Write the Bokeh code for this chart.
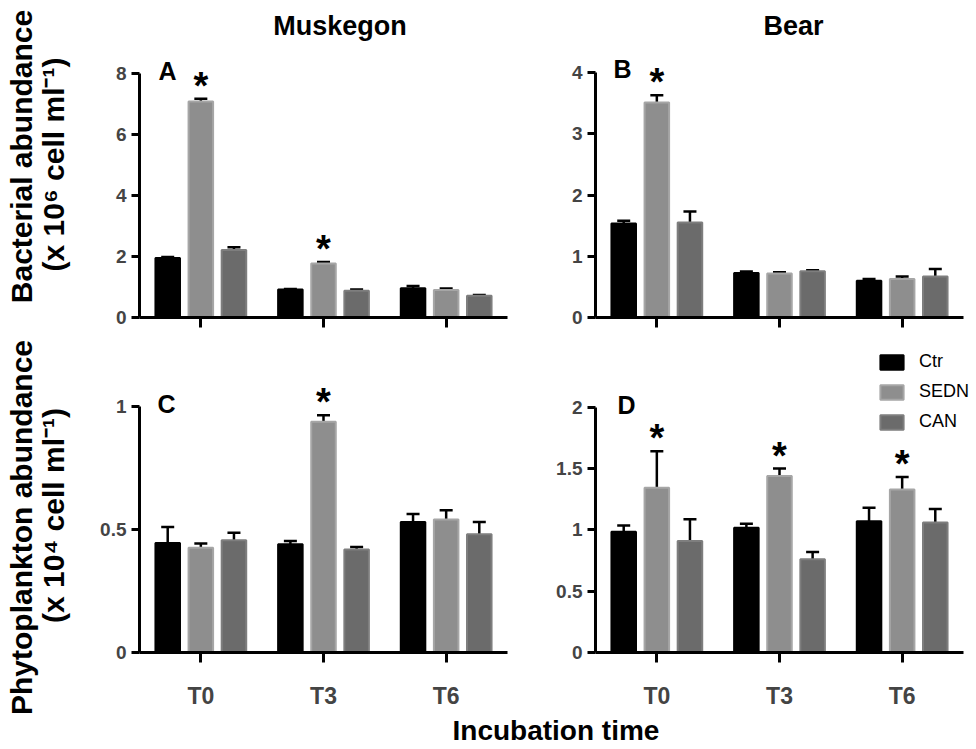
import math
from bokeh.plotting import figure
from bokeh.models import (ColumnDataSource, Range1d, FixedTicker, Whisker, TeeHead,
                          Legend, LegendItem, NumeralTickFormatter)
from bokeh.layouts import row, column
from bokeh.transform import dodge
from bokeh.core.properties import value
from bokeh.embed import file_html
from bokeh.resources import INLINE

# ---------------- data ----------------
times = ["T0", "T3", "T6"]
series = ["Ctr", "SEDN", "CAN"]

# A: Muskegon, bacterial abundance (x 10^6 cell/ml)
a_ctr = [1.95, 0.92, 0.96]
a_ctr_se = [0.03, 0.01, 0.07]
a_sedn = [7.07, 1.77, 0.90]
a_sedn_se = [0.09, 0.05, 0.05]
a_can = [2.21, 0.875, 0.71]
a_can_se = [0.09, 0.045, 0.03]
a_sig = [True, True, False]

# B: Bear, bacterial abundance
b_ctr = [1.535, 0.725, 0.60]
b_ctr_se = [0.045, 0.025, 0.03]
b_sedn = [3.51, 0.72, 0.63]
b_sedn_se = [0.12, 0.02, 0.04]
b_can = [1.55, 0.755, 0.67]
b_can_se = [0.18, 0.015, 0.12]
b_sig = [True, False, False]

# C: Muskegon, phytoplankton abundance (x 10^4 cell/ml)
c_ctr = [0.445, 0.44, 0.53]
c_ctr_se = [0.065, 0.013, 0.032]
c_sedn = [0.425, 0.937, 0.54]
c_sedn_se = [0.018, 0.026, 0.038]
c_can = [0.456, 0.418, 0.48]
c_can_se = [0.03, 0.01, 0.05]
c_sig = [False, True, False]

# D: Bear, phytoplankton abundance
d_ctr = [0.985, 1.018, 1.07]
d_ctr_se = [0.05, 0.032, 0.11]
d_sedn = [1.344, 1.44, 1.33]
d_sedn_se = [0.296, 0.06, 0.10]
d_can = [0.91, 0.76, 1.06]
d_can_se = [0.176, 0.06, 0.11]
d_sig = [True, True, True]

a_yticks = [0, 2, 4, 6, 8]
b_yticks = [0, 1, 2, 3, 4]
c_yticks = [0, 0.5, 1]
d_yticks = [0, 0.5, 1, 1.5, 2]

# ---------------- style ----------------
FONT = "Liberation Sans"
FILL = {"Ctr": "#000000", "SEDN": "#8e8e8e", "CAN": "#6b6b6b"}
EDGE = {"Ctr": "#000000", "SEDN": "#a6a6a6", "CAN": "#7e7e7e"}
OFFS = {"Ctr": -0.27, "SEDN": 0.0, "CAN": 0.27}
PX_PER_GROUP = 368 / 3.0
TXT_SHIFT = -10  # compensation for glyph text baseline placement


def blank(width, height, xr, yr):
    p = figure(width=width, height=height, x_range=xr, y_range=yr,
               x_axis_type=None, y_axis_type=None, tools="",
               toolbar_location=None, output_backend="svg", min_border=0)
    p.outline_line_color = None
    p.grid.visible = False
    return p


def make_panel(means, ses, sig, yticks, ypx, fmt, letter, letter_px, show_x,
               width, height, bl, br, bt, bb, frame_left, frame_top):
    """ypx = pixels per y unit; frame sizes follow from width/height/borders."""
    frame_h = height - bt - bb
    frame_w = width - bl - br
    ymax = frame_h / ypx
    xmax = 0.5 + frame_w / PX_PER_GROUP
    p = figure(width=width, height=height, x_range=Range1d(0.5, xmax),
               y_range=Range1d(0, ymax), tools="", toolbar_location=None,
               output_backend="svg", min_border_left=bl, min_border_right=br,
               min_border_top=bt, min_border_bottom=bb)
    p.outline_line_color = None
    p.grid.visible = False

    xs = [i + 1 for i in range(len(times))]
    renderers = {}
    for s in series:
        m = means[s]
        e = ses[s]
        src = ColumnDataSource(dict(x=xs, mean=m, top=[mi + ei for mi, ei in zip(m, e)]))
        r = p.vbar(x=dodge("x", OFFS[s], range=p.x_range), top="mean", bottom=0,
                   width=0.2, source=src, fill_color=FILL[s], line_color=EDGE[s],
                   line_width=2)
        renderers[s] = r
        w = Whisker(base=dodge("x", OFFS[s], range=p.x_range), lower="mean", upper="top",
                    source=src, dimension="height", line_color="black", line_width=2.5,
                    upper_head=TeeHead(size=13, line_width=2.5, line_color="black"),
                    lower_head=None)
        p.add_layout(w)

    # significance asterisks above SEDN bars
    sx, sy = [], []
    for i, flag in enumerate(sig):
        if flag:
            sx.append(xs[i])
            sy.append(means["SEDN"][i] + ses["SEDN"][i])
    ssrc = ColumnDataSource(dict(x=sx, y=sy, t=["*"] * len(sx)))
    p.text(x=dodge("x", OFFS["SEDN"], range=p.x_range), y="y", text="t", source=ssrc,
           text_align="center", text_baseline="alphabetic", y_offset=-13,
           text_font=value(FONT), text_font_style="bold", text_font_size="38px",
           text_color="black")

    # panel letter
    lx = 0.5 + (letter_px[0] - frame_left) / PX_PER_GROUP
    ly = (frame_top + frame_h - letter_px[1]) / ypx
    p.text(x=[lx], y=[ly], text=[letter], text_align="left", text_baseline="alphabetic",
           y_offset=-9, text_font=value(FONT), text_font_style="bold",
           text_font_size="25px", text_color="black")

    # axes
    xa = p.xaxis[0]
    xa.ticker = FixedTicker(ticks=xs, minor_ticks=[])
    xa.bounds = (0.5, 3.5)
    xa.axis_line_width = 3
    xa.major_tick_line_width = 3
    xa.major_tick_out = 10
    xa.major_tick_in = 0
    xa.minor_tick_out = 0
    xa.minor_tick_in = 0
    if show_x:
        xa.major_label_overrides = {x: t for x, t in zip(xs, times)}
        xa.major_label_text_font = FONT
        xa.major_label_text_font_style = "bold"
        xa.major_label_text_font_size = "23px"
        xa.major_label_standoff = 20
    else:
        xa.major_label_overrides = {x: "" for x in xs}
        xa.major_label_text_font_size = "0px"
        xa.major_label_standoff = 0

    ya = p.yaxis[0]
    ya.ticker = FixedTicker(ticks=yticks, minor_ticks=[])
    ya.bounds = (0, yticks[-1])
    ya.formatter = NumeralTickFormatter(format=fmt)
    ya.axis_line_width = 3
    ya.major_tick_line_width = 3
    ya.major_tick_out = 8
    ya.major_tick_in = 0
    ya.minor_tick_out = 0
    ya.minor_tick_in = 0
    ya.major_label_standoff = 5
    ya.major_label_text_font = FONT
    ya.major_label_text_font_style = "bold"
    ya.major_label_text_font_size = "19px"
    return p, renderers


def pack(ctr, ctr_se, sedn, sedn_se, can, can_se):
    return ({"Ctr": ctr, "SEDN": sedn, "CAN": can},
            {"Ctr": ctr_se, "SEDN": sedn_se, "CAN": can_se})


am, ase = pack(a_ctr, a_ctr_se, a_sedn, a_sedn_se, a_can, a_can_se)
bm, bse = pack(b_ctr, b_ctr_se, b_sedn, b_sedn_se, b_can, b_can_se)
cm, cse = pack(c_ctr, c_ctr_se, c_sedn, c_sedn_se, c_can, c_can_se)
dm, dse = pack(d_ctr, d_ctr_se, d_sedn, d_sedn_se, d_can, d_can_se)

# panel geometry (page pixels): A/C at x 80..550, B/D at x 550..976.
# Borders are kept equal along rows and columns (Bokeh aligns them).
pA, _ = make_panel(am, ase, a_sig, a_yticks, 244.3 / 8, "0", "A", (158, 79), False,
                   470, 295, 59, 43, 5, 28, 139, 55)
pB, _ = make_panel(bm, bse, b_sig, b_yticks, 245.0 / 4, "0", "B", (613, 77), False,
                   426, 295, 45, 0, 5, 28, 595, 55)
pC, _ = make_panel(cm, cse, c_sig, c_yticks, 246.3, "0.[0]", "C", (157, 412), True,
                   470, 369, 59, 43, 5, 62, 139, 350)
pD, rD = make_panel(dm, dse, d_sig, d_yticks, 245.3 / 2, "0.[0]", "D", (617, 413), True,
                    426, 369, 45, 0, 5, 62, 595, 350)

legend = Legend(items=[LegendItem(label=s, renderers=[rD[s]]) for s in series],
                location=(282, 220), orientation="vertical",
                glyph_width=29, glyph_height=18, label_standoff=13, spacing=9,
                padding=0, margin=0, border_line_color=None,
                background_fill_alpha=0, label_text_font=FONT,
                label_text_font_size="18px", label_text_color="black")
pD.add_layout(legend)

# header with column titles (page coordinates: x, 50 - y)
H = blank(896, 50, Range1d(80, 976), Range1d(0, 50))
H.text(x=[272.7, 763], y=[50 - 35, 50 - 35], text=["Muskegon", "Bear"],
       text_align="left", text_baseline="alphabetic", y_offset=TXT_SHIFT,
       text_font=value(FONT), text_font_style="bold", text_font_size="27px",
       text_color="black")

# left column with y-axis titles (page coordinates: x, 714 - y)
L = blank(80, 714, Range1d(0, 80), Range1d(0, 714))
L.text(x=[21, 53, 21, 53], y=[714 - 156, 714 - 164, 714 - 527, 714 - 515],
       text=["Bacterial abundance", "(x 10\u2076 cell ml\u207b\u00b9)",
             "Phytoplankton abundance", "(x 10\u2074 cell ml\u207b\u00b9)"],
       angle=math.pi / 2, text_align="center", text_baseline="middle",
       text_font=value(FONT), text_font_style="bold", text_font_size="30px",
       text_color="black")

# footer with x-axis title (page coordinates: x, 749 - y)
F = blank(976, 35, Range1d(0, 976), Range1d(0, 35))
F.text(x=[452], y=[749 - 740], text=["Incubation time"], text_align="left",
       text_baseline="alphabetic", y_offset=TXT_SHIFT, text_font=value(FONT),
       text_font_style="bold", text_font_size="28px", text_color="black")

layout = column(row(L, column(H, row(pA, pB), row(pC, pD))), F)

open("out.html", "w").write(file_html(layout, INLINE))
